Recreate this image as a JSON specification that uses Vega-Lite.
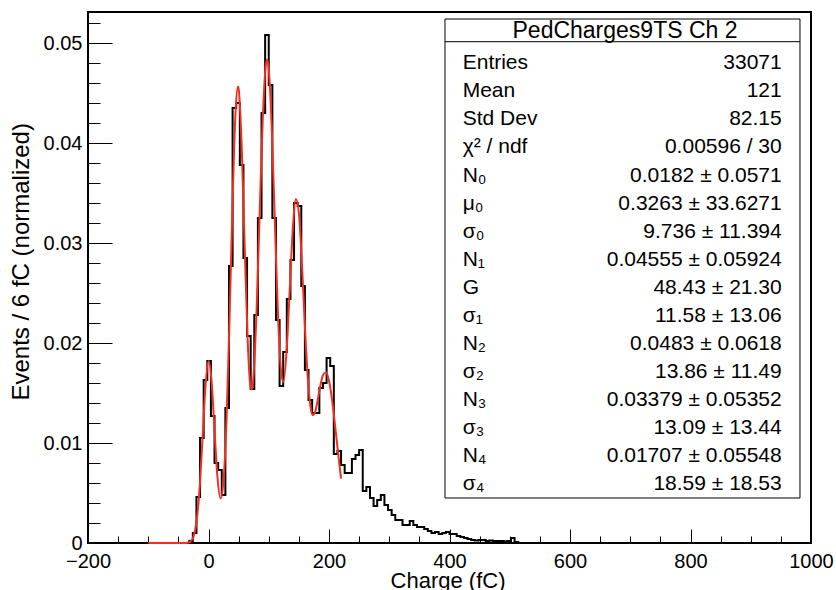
{
  "$schema": "https://vega.github.io/schema/vega-lite/v6.json",
  "width": 723,
  "height": 531,
  "autosize": {"type": "none"},
  "padding": {"left": 88, "top": 12, "right": 25, "bottom": 47},
  "background": "white",
  "config": {
    "font": "Liberation Sans",
    "view": {"stroke": "#000000", "strokeWidth": 2},
    "axis": {
      "grid": false,
      "domain": false,
      "labelFont": "Liberation Sans",
      "labelFontSize": 20,
      "labelColor": "#000000",
      "labelFlush": false,
      "labelOverlap": false,
      "tickColor": "#000000",
      "tickWidth": 1,
      "titleFont": "Liberation Sans",
      "titleFontSize": 24,
      "titleFontWeight": "normal",
      "titleColor": "#000000"
    }
  },
  "datasets": {
    "hist": [
      {"charge": -200, "events": 0},
      {"charge": -32, "events": 0.0002},
      {"charge": -26, "events": 0.001},
      {"charge": -20, "events": 0.0046},
      {"charge": -14, "events": 0.0105},
      {"charge": -8, "events": 0.0163},
      {"charge": -2, "events": 0.0182},
      {"charge": 4, "events": 0.0127},
      {"charge": 10, "events": 0.008},
      {"charge": 16, "events": 0.0073},
      {"charge": 22, "events": 0.0048},
      {"charge": 28, "events": 0.0135},
      {"charge": 34, "events": 0.0277},
      {"charge": 40, "events": 0.0435},
      {"charge": 46, "events": 0.044},
      {"charge": 52, "events": 0.0378},
      {"charge": 58, "events": 0.0285},
      {"charge": 64, "events": 0.0207},
      {"charge": 70, "events": 0.0154},
      {"charge": 76, "events": 0.0228},
      {"charge": 82, "events": 0.0325},
      {"charge": 88, "events": 0.043},
      {"charge": 94, "events": 0.0508},
      {"charge": 100, "events": 0.0458},
      {"charge": 106, "events": 0.0325},
      {"charge": 112, "events": 0.0223},
      {"charge": 118, "events": 0.0157},
      {"charge": 124, "events": 0.0191},
      {"charge": 130, "events": 0.0244},
      {"charge": 136, "events": 0.0283},
      {"charge": 142, "events": 0.034},
      {"charge": 148, "events": 0.0337},
      {"charge": 154, "events": 0.0257},
      {"charge": 160, "events": 0.0173},
      {"charge": 166, "events": 0.0143},
      {"charge": 172, "events": 0.013},
      {"charge": 178, "events": 0.013},
      {"charge": 184, "events": 0.0155},
      {"charge": 190, "events": 0.016},
      {"charge": 196, "events": 0.0185},
      {"charge": 202, "events": 0.0177},
      {"charge": 208, "events": 0.0089},
      {"charge": 214, "events": 0.0092},
      {"charge": 220, "events": 0.0078},
      {"charge": 226, "events": 0.007},
      {"charge": 232, "events": 0.007},
      {"charge": 238, "events": 0.0084},
      {"charge": 244, "events": 0.0088},
      {"charge": 250, "events": 0.0093},
      {"charge": 256, "events": 0.0052},
      {"charge": 262, "events": 0.0056},
      {"charge": 268, "events": 0.0045},
      {"charge": 274, "events": 0.0037},
      {"charge": 280, "events": 0.0043},
      {"charge": 286, "events": 0.0048},
      {"charge": 292, "events": 0.0038},
      {"charge": 298, "events": 0.0033},
      {"charge": 304, "events": 0.0028},
      {"charge": 310, "events": 0.0023},
      {"charge": 316, "events": 0.0023},
      {"charge": 322, "events": 0.0018},
      {"charge": 328, "events": 0.0018},
      {"charge": 334, "events": 0.0022},
      {"charge": 340, "events": 0.0018},
      {"charge": 346, "events": 0.0016},
      {"charge": 352, "events": 0.0016},
      {"charge": 358, "events": 0.0014},
      {"charge": 364, "events": 0.0012},
      {"charge": 370, "events": 0.001},
      {"charge": 376, "events": 0.0011},
      {"charge": 382, "events": 0.0009},
      {"charge": 388, "events": 0.001},
      {"charge": 394, "events": 0.0011},
      {"charge": 400, "events": 0.0009},
      {"charge": 406, "events": 0.0009},
      {"charge": 412, "events": 0.0007},
      {"charge": 418, "events": 0.0006},
      {"charge": 424, "events": 0.0005},
      {"charge": 430, "events": 0.0004},
      {"charge": 436, "events": 0.0003},
      {"charge": 442, "events": 0.00025},
      {"charge": 448, "events": 0.0003},
      {"charge": 454, "events": 0.0003},
      {"charge": 460, "events": 0.0002},
      {"charge": 466, "events": 0.00025},
      {"charge": 472, "events": 0.0002},
      {"charge": 478, "events": 0.0002},
      {"charge": 484, "events": 0.0002},
      {"charge": 490, "events": 0.00015},
      {"charge": 496, "events": 0.0002},
      {"charge": 502, "events": 0.0005},
      {"charge": 508, "events": 0.0001},
      {"charge": 514, "events": 0},
      {"charge": 1000, "events": 0}
    ],
    "fit": [
      {"charge": -100, "events": 0},
      {"charge": -50, "events": 0},
      {"charge": -45, "events": 0.0000004},
      {"charge": -40, "events": 0.0000034},
      {"charge": -35, "events": 0.0000251},
      {"charge": -30, "events": 0.000142},
      {"charge": -25, "events": 0.000617},
      {"charge": -20, "events": 0.002057},
      {"charge": -15, "events": 0.005269},
      {"charge": -10, "events": 0.010367},
      {"charge": -5, "events": 0.01567},
      {"charge": 0, "events": 0.0182},
      {"charge": 5, "events": 0.01626},
      {"charge": 10, "events": 0.01128},
      {"charge": 15, "events": 0.0065},
      {"charge": 20, "events": 0.00445},
      {"charge": 25, "events": 0.00629},
      {"charge": 30, "events": 0.01244},
      {"charge": 35, "events": 0.02252},
      {"charge": 40, "events": 0.03423},
      {"charge": 45, "events": 0.04326},
      {"charge": 48.8, "events": 0.04566},
      {"charge": 50, "events": 0.04544},
      {"charge": 55, "events": 0.03987},
      {"charge": 60, "events": 0.02976},
      {"charge": 65, "events": 0.02029},
      {"charge": 70, "events": 0.01552},
      {"charge": 72, "events": 0.01534},
      {"charge": 75, "events": 0.01691},
      {"charge": 80, "events": 0.02358},
      {"charge": 85, "events": 0.03315},
      {"charge": 90, "events": 0.0423},
      {"charge": 95, "events": 0.04774},
      {"charge": 97.2, "events": 0.04834},
      {"charge": 100, "events": 0.0474},
      {"charge": 105, "events": 0.04148},
      {"charge": 110, "events": 0.03235},
      {"charge": 115, "events": 0.02335},
      {"charge": 120, "events": 0.01745},
      {"charge": 124, "events": 0.01609},
      {"charge": 130, "events": 0.01956},
      {"charge": 135, "events": 0.02559},
      {"charge": 140, "events": 0.03147},
      {"charge": 145, "events": 0.0344},
      {"charge": 150, "events": 0.03302},
      {"charge": 155, "events": 0.02803},
      {"charge": 160, "events": 0.02167},
      {"charge": 165, "events": 0.01633},
      {"charge": 170, "events": 0.01336},
      {"charge": 173, "events": 0.01278},
      {"charge": 176, "events": 0.01294},
      {"charge": 180, "events": 0.0139},
      {"charge": 185, "events": 0.01553},
      {"charge": 190, "events": 0.01678},
      {"charge": 195, "events": 0.01708},
      {"charge": 200, "events": 0.01622},
      {"charge": 205, "events": 0.01435},
      {"charge": 210, "events": 0.01181},
      {"charge": 215, "events": 0.00905},
      {"charge": 220, "events": 0.00644}
    ],
    "stats": [
      {"row": 1, "label": "Entries", "value": "33071"},
      {"row": 2, "label": "Mean", "value": "121"},
      {"row": 3, "label": "Std Dev", "value": "82.15"},
      {"row": 4, "label": "χ² / ndf", "value": "0.00596 / 30"},
      {"row": 5, "label": "N₀", "value": "0.0182 ± 0.0571"},
      {"row": 6, "label": "μ₀", "value": "0.3263 ± 33.6271"},
      {"row": 7, "label": "σ₀", "value": "9.736 ± 11.394"},
      {"row": 8, "label": "N₁", "value": "0.04555 ± 0.05924"},
      {"row": 9, "label": "G", "value": "48.43 ± 21.30"},
      {"row": 10, "label": "σ₁", "value": "11.58 ± 13.06"},
      {"row": 11, "label": "N₂", "value": "0.0483 ± 0.0618"},
      {"row": 12, "label": "σ₂", "value": "13.86 ± 11.49"},
      {"row": 13, "label": "N₃", "value": "0.03379 ± 0.05352"},
      {"row": 14, "label": "σ₃", "value": "13.09 ± 13.44"},
      {"row": 15, "label": "N₄", "value": "0.01707 ± 0.05548"},
      {"row": 16, "label": "σ₄", "value": "18.59 ± 18.53"}
    ],
    "statTitle": [
      {"row": 0, "title": "PedCharges9TS Ch 2"}
    ]
  },
  "layer": [
    {
      "data": {"name": "hist"},
      "mark": {"type": "line", "interpolate": "step-after", "color": "#000000", "strokeWidth": 2},
      "encoding": {
        "x": {
          "field": "charge", "type": "quantitative",
          "scale": {"domain": [-200, 1000], "nice": false, "zero": false},
          "axis": {
            "orient": "bottom", "values": [-200, 0, 200, 400, 600, 800, 1000], "format": "d",
            "ticks": false, "labelPadding": 8,
            "title": "Charge (fC)", "titleFontSize": 22, "titleX": 417, "titleY": 44, "titleAlign": "right", "titleBaseline": "alphabetic"
          }
        },
        "y": {
          "field": "events", "type": "quantitative",
          "scale": {"domain": [0, 0.0531], "nice": false, "zero": false},
          "axis": {
            "orient": "left", "values": [0, 0.01, 0.02, 0.03, 0.04, 0.05],
            "labelExpr": "datum.value === 0 ? '0' : format(datum.value, '.2f')",
            "ticks": false, "labelPadding": 6,
            "title": "Events / 6 fC (normalized)", "titleAngle": 270, "titleAlign": "left", "titleBaseline": "alphabetic",
            "titleX": -59.7, "titleY": 388
          }
        }
      }
    },
    {
      "data": {"name": "fit"},
      "mark": {"type": "line", "interpolate": "monotone", "color": "#f23020", "strokeWidth": 2},
      "encoding": {
        "x": {
          "field": "charge", "type": "quantitative",
          "scale": {"domain": [-200, 1000], "nice": false, "zero": false},
          "axis": {"orient": "bottom", "values": [-200, 0, 200, 400, 600, 800, 1000], "labels": false, "tickSize": -14, "title": null}
        },
        "y": {
          "field": "events", "type": "quantitative",
          "scale": {"domain": [0, 0.0531], "nice": false, "zero": false},
          "axis": {"orient": "left", "values": [0, 0.01, 0.02, 0.03, 0.04, 0.05], "labels": false, "tickSize": -24, "title": null}
        }
      }
    },
    {
      "data": {"values": [{"box": "stats"}]},
      "mark": {"type": "rect", "fill": "#ffffff", "stroke": "#000000", "strokeWidth": 1},
      "encoding": {
        "x": {
          "datum": 392.5, "type": "quantitative",
          "scale": {"domain": [-200, 1000], "nice": false, "zero": false},
          "axis": {"orient": "bottom", "values": [-150, -100, -50, 50, 100, 150, 250, 300, 350, 450, 500, 550, 650, 700, 750, 850, 900, 950], "labels": false, "tickSize": -7, "title": null}
        },
        "x2": {"datum": 981.7},
        "y": {
          "datum": 0.0524, "type": "quantitative",
          "scale": {"domain": [0, 0.0531], "nice": false, "zero": false},
          "axis": {"orient": "left", "values": [0.002, 0.004, 0.006, 0.008, 0.012, 0.014, 0.016, 0.018, 0.022, 0.024, 0.026, 0.028, 0.032, 0.034, 0.036, 0.038, 0.042, 0.044, 0.046, 0.048, 0.052], "labels": false, "tickSize": -12, "title": null}
        },
        "y2": {"datum": 0.0045}
      }
    },
    {
      "data": {"values": [{"line": "header"}]},
      "mark": {"type": "rule", "color": "#000000", "strokeWidth": 1},
      "encoding": {
        "x": {"datum": 392.5, "type": "quantitative", "scale": {"domain": [-200, 1000], "nice": false, "zero": false}, "axis": null},
        "x2": {"datum": 981.7},
        "y": {"datum": 0.05013, "type": "quantitative", "scale": {"domain": [0, 0.0531], "nice": false, "zero": false}, "axis": null}
      }
    },
    {
      "data": {"name": "stats"},
      "mark": {"type": "text", "align": "left", "baseline": "alphabetic", "font": "Liberation Sans", "fontSize": 21, "color": "#000000"},
      "encoding": {
        "x": {"datum": 421.9, "type": "quantitative", "scale": {"domain": [-200, 1000], "nice": false, "zero": false}, "axis": null},
        "y": {"field": "row", "type": "quantitative", "scale": {"domain": [-1.043, 17.887], "reverse": true, "nice": false, "zero": false}, "axis": null},
        "text": {"field": "label"}
      }
    },
    {
      "data": {"name": "stats"},
      "mark": {"type": "text", "align": "right", "baseline": "alphabetic", "font": "Liberation Sans", "fontSize": 21, "color": "#000000"},
      "encoding": {
        "x": {"datum": 951.4, "type": "quantitative", "scale": {"domain": [-200, 1000], "nice": false, "zero": false}, "axis": null},
        "y": {"field": "row", "type": "quantitative", "scale": {"domain": [-1.043, 17.887], "reverse": true, "nice": false, "zero": false}, "axis": null},
        "text": {"field": "value"}
      }
    },
    {
      "data": {"name": "statTitle"},
      "mark": {"type": "text", "align": "center", "baseline": "alphabetic", "font": "Liberation Sans", "fontSize": 23, "color": "#000000", "dy": -3},
      "encoding": {
        "x": {"datum": 691.3, "type": "quantitative", "scale": {"domain": [-200, 1000], "nice": false, "zero": false}, "axis": null},
        "y": {"field": "row", "type": "quantitative", "scale": {"domain": [-1.043, 17.887], "reverse": true, "nice": false, "zero": false}, "axis": null},
        "text": {"field": "title"}
      }
    }
  ],
  "resolve": {"scale": {"y": "independent"}, "axis": {"x": "independent", "y": "independent"}}
}
